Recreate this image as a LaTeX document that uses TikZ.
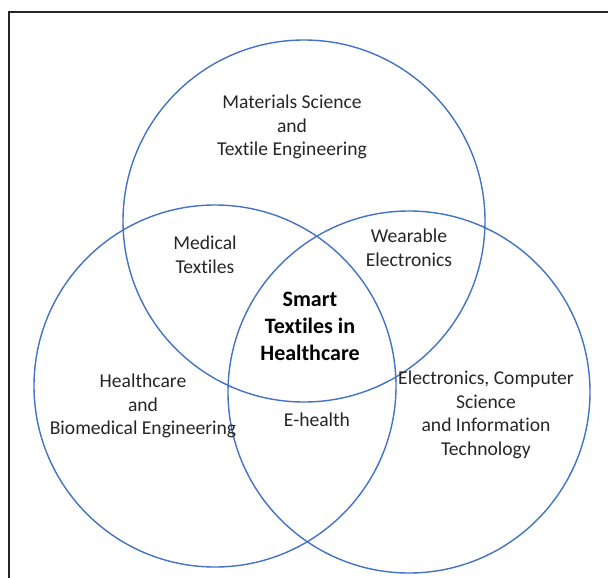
\documentclass[tikz,border=0pt]{standalone}
\usepackage{fontspec}
\setmainfont[Ligatures=CommonOff]{Carlito}
\usepackage{xcolor}
\definecolor{vennblue}{HTML}{4472C4}
\tikzset{
	frame/.style={line width=2pt,black!85},%
	venncircle/.style={vennblue,line width=1.4pt},%
	field/.style={align=center,inner sep=0pt,text=black!85,font=\fontsize{19.6}{23.5}\selectfont},%
	core/.style={align=center,inner sep=0pt,text=black,font=\fontsize{22}{27}\selectfont\bfseries},%
}

\begin{document}
\begin{tikzpicture}[x=1pt,y=-1pt]
		\useasboundingbox (0,0) rectangle (608,578);
		% Frame {{{
		\draw[frame] (9,578) -- (9,12.5) -- (608,12.5);
		% }}}
		% Circles {{{
		\draw[venncircle] (304,221) circle (181);
		\draw[venncircle] (215,386) circle (181);
		\draw[venncircle] (409,392) circle (181);
		% }}}
		% Fields {{{
		\node[field] (materials) at (292,127) {Materials Science\\and\\Textile Engineering};
		\node[field] (healthcare) at (143,406) {Healthcare\\and\\Biomedical Engineering};
		\node[field] (electronics) at (486,415) {Electronics, Computer\\Science\\and Information\\Technology};
		% }}}
		% Overlaps {{{
		\node[field] (medical) at (205,255) {Medical\\Textiles};
		\node[field] (wearable) at (409,248) {Wearable\\Electronics};
		\node[field] (ehealth) at (317,420) {E-health};
		\node[core] (smart) at (310,326) {Smart\\Textiles in\\Healthcare};
		% }}}
	\end{tikzpicture}
\end{document}
